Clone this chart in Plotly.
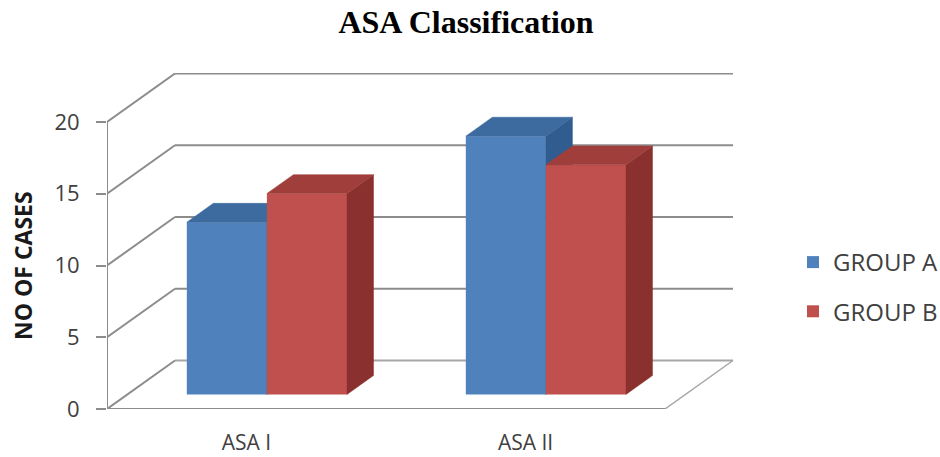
import plotly.graph_objects as go

# ---- data -------------------------------------------------------------
categories = ["ASA I", "ASA II"]
series_names = ["GROUP A", "GROUP B"]
group_a = [12, 18]
group_b = [14, 16]
y_ticks = [0, 5, 10, 15, 20]

chart_title = "ASA Classification"
y_title = "NO OF CASES"

# ---- styling / geometry of the pseudo-3D box (data units) --------------
front_colors = ["#4F81BD", "#C0504D"]
top_colors = ["#3D6A9F", "#A03E3B"]
side_colors = ["#305C90", "#8A302E"]
grid_color = "#8C8C8C"
floor_color = "#A6A6A6"
text_color = "#404040"
sans = "Open Sans, Liberation Sans, sans-serif"

DEPTH_X = 0.2437      # wall depth projected on the category axis
DEPTH_Y = 3.38        # wall depth projected on the value axis
BAR_FRONT = 0.30      # depth fraction where bar front faces sit
BAR_DEPTH = 0.39      # depth fraction taken by a bar
BAR_W = 0.287         # width of one bar (category units)
FLOOR_W = float(len(categories))

X_RANGE = [0, 633 / 279]
Y_RANGE = [0, 336 / 14.35]

fig = go.Figure()

# ---- walls, floor and grid as shapes drawn beneath the bars -----------
shapes = []
ymax = max(y_ticks)
for t in y_ticks:
    # side wall diagonal from the front axis to the back wall
    shapes.append(dict(type="line", xref="x", yref="y", layer="below",
                       x0=0, y0=t, x1=DEPTH_X, y1=t + DEPTH_Y,
                       line=dict(color=grid_color, width=2)))
    # back wall gridline
    shapes.append(dict(type="line", xref="x", yref="y", layer="below",
                       x0=DEPTH_X, y0=t + DEPTH_Y, x1=DEPTH_X + FLOOR_W, y1=t + DEPTH_Y,
                       line=dict(color=grid_color if t > 0 else floor_color, width=2)))
# floor front edge and right edge
shapes.append(dict(type="line", xref="x", yref="y", layer="below",
                   x0=0, y0=0, x1=FLOOR_W, y1=0,
                   line=dict(color=grid_color, width=2)))
shapes.append(dict(type="line", xref="x", yref="y", layer="below",
                   x0=FLOOR_W, y0=0, x1=FLOOR_W + DEPTH_X, y1=DEPTH_Y,
                   line=dict(color=floor_color, width=1.5)))
# front value axis line
shapes.append(dict(type="line", xref="x", yref="y", layer="below",
                   x0=0, y0=0, x1=0, y1=ymax,
                   line=dict(color=grid_color, width=2)))

# ---- bars: front faces as bar traces, top and side faces as polygons ---
base = BAR_FRONT * DEPTH_Y
bdx = BAR_DEPTH * DEPTH_X
bdy = BAR_DEPTH * DEPTH_Y

for s, (name, values) in enumerate(zip(series_names, [group_a, group_b])):
    xa = "x" if s == 0 else "x2"
    ya = "y" if s == 0 else "y2"
    lefts = [i + 0.5 + BAR_FRONT * DEPTH_X + (s - 1) * BAR_W for i in range(len(categories))]

    fig.add_trace(go.Bar(
        x=[l + BAR_W / 2 for l in lefts], y=values, base=base, width=BAR_W,
        name=name, legendgroup=name, xaxis=xa, yaxis=ya,
        marker=dict(color=front_colors[s], line=dict(width=0)),
        hoverinfo="skip",
    ))

    top_x, top_y, side_x, side_y = [], [], [], []
    for l, v in zip(lefts, values):
        top = base + v
        r = l + BAR_W
        top_x += [l, r, r + bdx, l + bdx, l, None]
        top_y += [top, top, top + bdy, top + bdy, top, None]
        side_x += [r, r + bdx, r + bdx, r, r, None]
        side_y += [base, base + bdy, top + bdy, top, base, None]

    fig.add_trace(go.Scatter(
        x=side_x, y=side_y, mode="lines", fill="toself",
        fillcolor=side_colors[s], line=dict(color=side_colors[s], width=0.5),
        xaxis=xa, yaxis=ya, showlegend=False, hoverinfo="skip"))
    fig.add_trace(go.Scatter(
        x=top_x, y=top_y, mode="lines", fill="toself",
        fillcolor=top_colors[s], line=dict(color=top_colors[s], width=0.5),
        xaxis=xa, yaxis=ya, showlegend=False, hoverinfo="skip"))

tick_font = dict(family=sans, size=22, color=text_color)
cat_font = dict(family=sans, size=21, color=text_color)

fig.update_layout(
    width=940, height=457,
    margin=dict(l=107, r=200, t=73, b=48),
    paper_bgcolor="white", plot_bgcolor="rgba(0,0,0,0)",
    barmode="overlay",
    title=dict(text="<b>" + chart_title + "</b>", x=466 / 940, xanchor="center",
               y=1 - 22 / 457, yanchor="middle", xref="container", yref="container",
               font=dict(family="Liberation Serif, serif", size=32, color="#000000")),
    xaxis=dict(range=X_RANGE, showgrid=False, zeroline=False, showline=False,
               automargin=False,
               tickvals=[i + 0.5 for i in range(len(categories))], ticktext=categories,
               ticks="", ticklabelstandoff=19, tickfont=cat_font, fixedrange=True),
    yaxis=dict(range=Y_RANGE, showgrid=False, zeroline=False, showline=False,
               automargin=False,
               tickvals=y_ticks, ticktext=[str(t) for t in y_ticks],
               ticks="outside", ticklen=10, tickwidth=2, tickcolor=grid_color,
               ticklabelstandoff=12, tickfont=tick_font, fixedrange=True),
    xaxis2=dict(range=X_RANGE, overlaying="x", visible=False, fixedrange=True),
    yaxis2=dict(range=Y_RANGE, overlaying="y", visible=False, fixedrange=True),
    shapes=shapes,
    legend=dict(xref="container", yref="container",
                x=793 / 940, xanchor="left", y=1 - 240 / 457, yanchor="top",
                tracegroupgap=15, bgcolor="rgba(0,0,0,0)",
                font=dict(family=sans, size=24, color=text_color)),
    annotations=[dict(text="<b>" + y_title + "</b>", textangle=-90,
                      xref="paper", yref="paper",
                      x=(23 - 107) / 633, y=1 - (266 - 73) / 336,
                      xanchor="center", yanchor="middle", showarrow=False,
                      font=dict(family=sans, size=23, color="#1A1A1A"))],
)

fig.write_html("out.html")
